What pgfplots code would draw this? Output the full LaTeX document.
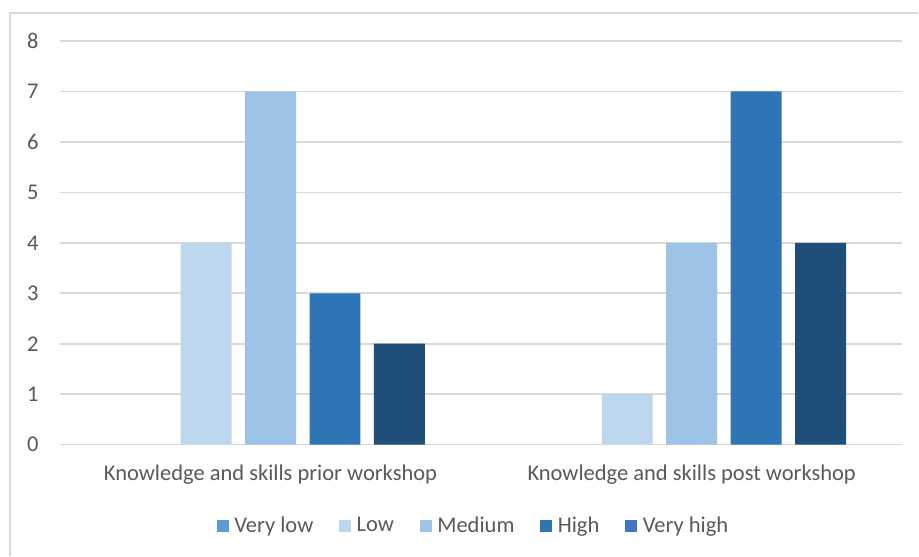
\documentclass[border=0pt]{standalone}
\usepackage{pgfplots}
\pgfplotsset{compat=1.18}
\usepackage{fontspec}
\setmainfont{Carlito}
\definecolor{vlow}{HTML}{5B9BD5}
\definecolor{low}{HTML}{BDD7EE}
\definecolor{med}{HTML}{9DC3E6}
\definecolor{high}{HTML}{2E75B6}
\definecolor{vhigh}{HTML}{1F4E79}
\definecolor{vhighleg}{HTML}{4472C4}
\definecolor{gridc}{HTML}{D9D9D9}
\definecolor{txt}{HTML}{595959}
\begin{document}
\begin{tikzpicture}[x=1pt,y=1pt]
\path (0,0) rectangle (919,556);
\draw[gridc, line width=1.5pt] (10,0) -- (10,543) -- (919,543);
\begin{axis}[
  at={(60pt,111pt)}, anchor=south west,
  scale only axis, width=843pt, height=404pt,
  xmin=-0.5, xmax=1.5, ymin=0, ymax=8,
  xtick={0,1},
  xticklabels={Knowledge and skills prior workshop, Knowledge and skills post workshop},
  ytick={0,1,...,8},
  axis line style={draw=none},
  major tick length=0pt,
  ymajorgrids, grid style={gridc, line width=1.6pt},
  tick label style={font=\fontsize{22.5}{27}\selectfont, text=txt},
  /pgf/number format/assume math mode=true,
  yticklabel style={xshift=-18pt},
  xticklabel style={yshift=-17pt},
  legend style={at={(0.491,-0.2)}, anchor=center, draw=none, fill=none,
    legend columns=5, font=\fontsize{22.5}{27}\selectfont, text=txt,
    /tikz/every odd column/.append style={column sep=4pt},
    /tikz/every even column/.append style={column sep=24pt}},
  legend image code/.code={\fill[#1] (0pt,-5.5pt) rectangle (11pt,5.5pt);},
  legend cell align=left,
]
\addplot[ybar, bar width=51pt, bar shift=-64.5pt, fill=low, draw=none, forget plot] coordinates {(0,4) (1,1)};
\addplot[ybar, bar width=51pt, bar shift=0pt, fill=med, draw=none, forget plot] coordinates {(0,7) (1,4)};
\addplot[ybar, bar width=51pt, bar shift=64.5pt, fill=high, draw=none, forget plot] coordinates {(0,3) (1,7)};
\addplot[ybar, bar width=51pt, bar shift=129pt, fill=vhigh, draw=none, forget plot] coordinates {(0,2) (1,4)};
\addlegendimage{vlow}\addlegendentry{Very low}
\addlegendimage{low}\addlegendentry{Low}
\addlegendimage{med}\addlegendentry{Medium}
\addlegendimage{high}\addlegendentry{High}
\addlegendimage{vhighleg}\addlegendentry{Very high}
\end{axis}
\end{tikzpicture}
\end{document}
